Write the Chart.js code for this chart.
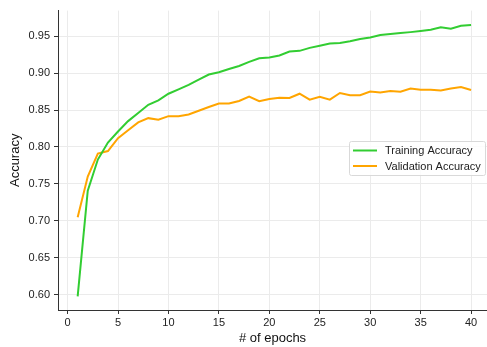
<!DOCTYPE html>
<html>
<head>
<meta charset="utf-8">
<script src="https://cdn.jsdelivr.net/npm/chart.js@4/dist/chart.umd.min.js"></script>
<style>
  html, body { margin: 0; padding: 0; background: #ffffff; overflow: hidden; }
  #wrap { width: 487px; height: 347px; position: relative; }
</style>
</head>
<body>
<div id="wrap"><canvas id="c" width="487" height="347"></canvas></div>
<script>
const epochs = Array.from({length: 40}, (_, i) => i + 1);
const trainingAccuracy = [
  0.598, 0.741, 0.783, 0.806, 0.821, 0.835, 0.846, 0.857, 0.863, 0.872,
  0.878, 0.884, 0.891, 0.898, 0.901, 0.9055, 0.9095, 0.915, 0.920, 0.921,
  0.9237, 0.929, 0.930, 0.934, 0.937, 0.940, 0.9406, 0.943, 0.946, 0.948,
  0.9513, 0.9527, 0.954, 0.9553, 0.9567, 0.9584, 0.962, 0.960, 0.964, 0.965
];
const validationAccuracy = [
  0.705, 0.760, 0.791, 0.7945, 0.812, 0.8226, 0.8333, 0.839, 0.8368, 0.8417,
  0.8417, 0.844, 0.849, 0.854, 0.8587, 0.8587, 0.8622, 0.868, 0.862, 0.865,
  0.8667, 0.8662, 0.872, 0.864, 0.868, 0.864, 0.873, 0.870, 0.870, 0.875,
  0.8738, 0.8756, 0.8747, 0.879, 0.8774, 0.8774, 0.8765, 0.879, 0.881, 0.877
];
const xTickValues = [0, 5, 10, 15, 20, 25, 30, 35, 40];
const yTickValues = [0.60, 0.65, 0.70, 0.75, 0.80, 0.85, 0.90, 0.95];
const seriesLabels = ['Training Accuracy', 'Validation Accuracy'];
const xTitle = '# of epochs';
const yTitle = 'Accuracy';

const FONT = "'Liberation Sans', Arial, sans-serif";

const legendPlugin = {
  id: 'boxLegend',
  afterDraw(chart) {
    const ctx = chart.ctx;
    const x0 = 349.5, y0 = 141.5, w = 136, h = 34;
    ctx.save();
    ctx.fillStyle = 'rgba(255,255,255,0.85)';
    ctx.strokeStyle = '#d9d9d9';
    ctx.lineWidth = 1;
    ctx.beginPath();
    if (ctx.roundRect) ctx.roundRect(x0, y0, w, h, 2); else ctx.rect(x0, y0, w, h);
    ctx.fill();
    ctx.stroke();
    ctx.font = '11px ' + FONT;
    ctx.textBaseline = 'middle';
    chart.data.datasets.forEach((ds, i) => {
      const cy = 150.5 + i * 15.5;
      ctx.strokeStyle = ds.borderColor;
      ctx.lineWidth = 2;
      ctx.beginPath();
      ctx.moveTo(353, cy);
      ctx.lineTo(377, cy);
      ctx.stroke();
      ctx.fillStyle = '#222222';
      ctx.fillText(ds.label, 385, cy + 0.5);
    });
    ctx.restore();
  }
};

new Chart(document.getElementById('c'), {
  type: 'line',
  data: {
    datasets: [
      {
        label: seriesLabels[0],
        data: epochs.map((e, i) => ({x: e, y: trainingAccuracy[i]})),
        borderColor: '#32cd32',
        backgroundColor: '#32cd32',
        borderWidth: 2,
        pointRadius: 0,
        tension: 0,
        fill: false
      },
      {
        label: seriesLabels[1],
        data: epochs.map((e, i) => ({x: e, y: validationAccuracy[i]})),
        borderColor: '#ffa500',
        backgroundColor: '#ffa500',
        borderWidth: 2,
        pointRadius: 0,
        tension: 0,
        fill: false
      }
    ]
  },
  options: {
    responsive: false,
    animation: false,
    devicePixelRatio: 1,
    layout: { padding: { top: 8, right: 0, left: 0, bottom: 0 } },
    plugins: {
      legend: { display: false },
      tooltip: { enabled: false }
    },
    scales: {
      x: {
        type: 'linear',
        min: -0.95,
        max: 41.58,
        afterBuildTicks(scale) { scale.ticks = xTickValues.map(v => ({value: v})); },
        afterFit(scale) { scale.height = 37; },
        ticks: {
          font: { family: FONT, size: 11 },
          color: '#222222',
          padding: 2,
          maxRotation: 0,
          autoSkip: false,
          callback: v => String(v)
        },
        grid: { color: '#ebebeb', lineWidth: 1, tickLength: 4, tickColor: '#333333', drawTicks: true },
        border: { display: true, color: '#333333', width: 1 },
        title: { display: true, text: xTitle, font: { family: FONT, size: 13 }, color: '#111111', padding: { top: 0, bottom: 1 } }
      },
      y: {
        type: 'linear',
        min: 0.5796,
        max: 0.9844,
        afterBuildTicks(scale) { scale.ticks = yTickValues.map(v => ({value: v})); },
        afterFit(scale) { scale.width = 58; },
        ticks: {
          font: { family: FONT, size: 11 },
          color: '#222222',
          padding: 4,
          autoSkip: false,
          callback: v => Number(v).toFixed(2)
        },
        grid: { color: '#ebebeb', lineWidth: 1, tickLength: 4, tickColor: '#333333', drawTicks: true },
        border: { display: true, color: '#333333', width: 1 },
        title: { display: true, text: yTitle, font: { family: FONT, size: 13 }, color: '#111111', padding: { top: 8, bottom: 0 } }
      }
    }
  },
  plugins: [legendPlugin]
});
</script>
</body>
</html>
